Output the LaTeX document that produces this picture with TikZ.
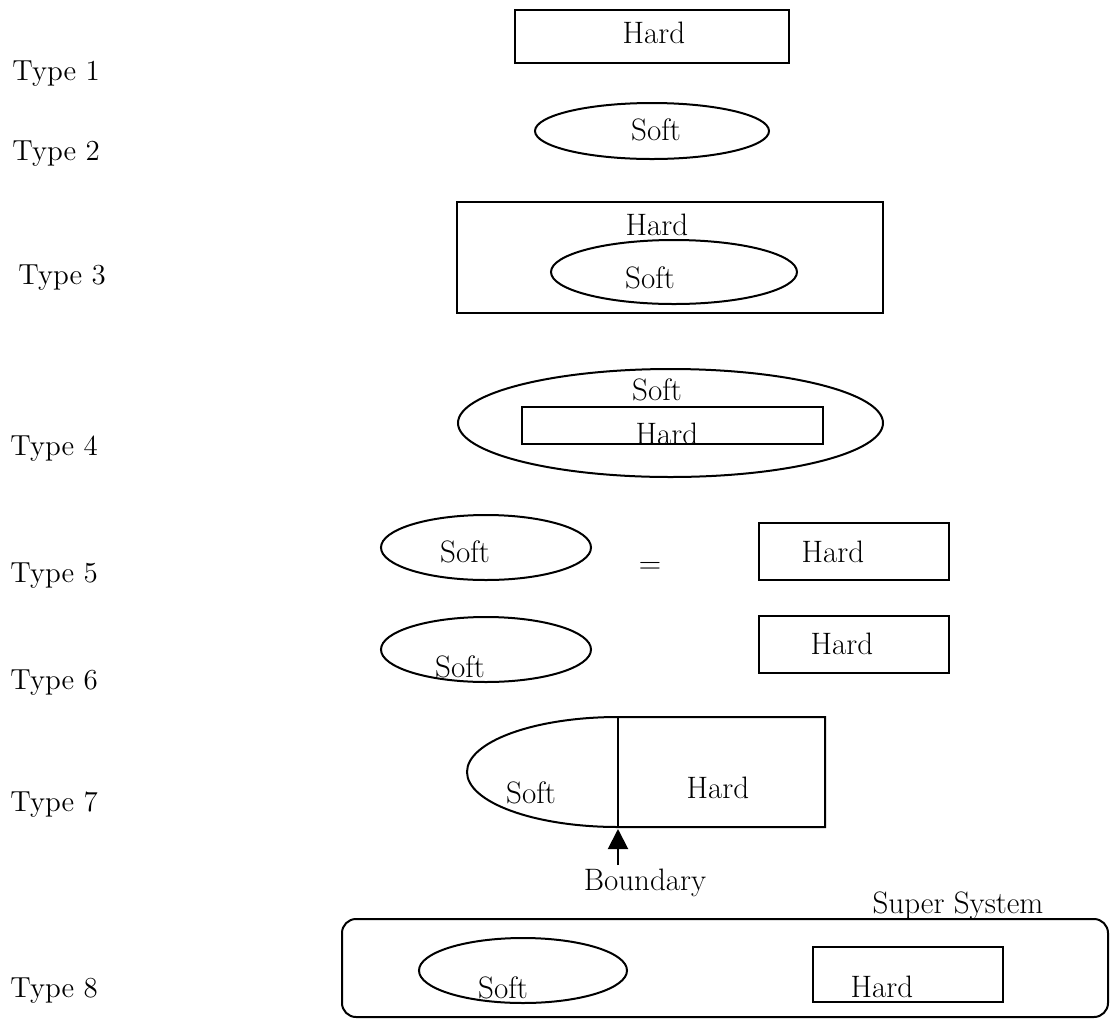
\documentclass[tikz,border=0pt]{standalone}
\usetikzlibrary{shapes.geometric,arrows.meta}
\begin{document}
\begin{tikzpicture}[x=0.5pt,y=-0.5pt,
  txt/.style={font=\fontsize{15.5}{18}\selectfont, anchor=base, inner sep=0pt},
  typelbl/.style={font=\fontsize{14.5}{17}\selectfont, anchor=base west, inner sep=0pt},
  hardbox/.style={draw, rectangle, inner sep=0pt, line width=1pt},
  softbox/.style={draw, ellipse, inner sep=0pt, line width=1pt},
  edge/.style={line width=1pt}]
\useasboundingbox (0,0) rectangle (1110,1019);

% row labels
\node[typelbl] (t1) at (12,80)  {Type 1};
\node[typelbl] (t2) at (12,160) {Type 2};
\node[typelbl] (t3) at (18,284) {Type 3};
\node[typelbl] (t4) at (10,455) {Type 4};
\node[typelbl] (t5) at (10,582) {Type 5};
\node[typelbl] (t6) at (10,689) {Type 6};
\node[typelbl] (t7) at (10,811) {Type 7};
\node[typelbl] (t8) at (10,997) {Type 8};

% Type 1: hard system only
\node[hardbox, minimum width=137pt, minimum height=26.5pt] (h1) at (652,36.5) {};
\node[txt] (h1t) at (654,43) {Hard};

% Type 2: soft system only
\node[softbox, minimum width=117pt, minimum height=28pt] (s2) at (652,131) {};
\node[txt] (s2t) at (656,140) {Soft};

% Type 3: soft inside hard
\node[hardbox, minimum width=213pt, minimum height=55.5pt] (h3) at (670,257.5) {};
\node[txt] (h3t) at (657,235) {Hard};
\node[softbox, minimum width=123pt, minimum height=32pt] (s3) at (674,272) {};
\node[txt] (s3t) at (650,288) {Soft};

% Type 4: hard inside soft
\node[softbox, minimum width=212.5pt, minimum height=54pt] (s4) at (670.5,423) {};
\node[txt] (s4t) at (657,400) {Soft};
\node[hardbox, minimum width=150.5pt, minimum height=18.5pt] (h4) at (672.5,425.5) {};
\node[txt] (h4t) at (667,444) {Hard};

% Type 5: soft equals hard
\node[softbox, minimum width=105pt, minimum height=32.5pt] (s5) at (486,547.5) {};
\node[txt] (s5t) at (465,562) {Soft};
\node[txt] (eq5) at (650,573) {=};
\node[hardbox, minimum width=95pt, minimum height=28.5pt] (h5) at (854,551.5) {};
\node[txt] (h5t) at (833,562) {Hard};

% Type 6: soft and hard side by side
\node[softbox, minimum width=105pt, minimum height=32.5pt] (s6) at (486,649.5) {};
\node[txt] (s6t) at (460,677) {Soft};
\node[hardbox, minimum width=95pt, minimum height=28.5pt] (h6) at (854,644.5) {};
\node[txt] (h6t) at (842,654) {Hard};

% Type 7: soft and hard sharing a boundary
\coordinate (b7top) at (618,717);
\coordinate (b7bot) at (618,827);
\draw[edge] (b7top) -- (825,717) -- (825,827) -- (b7bot)
  arc[start angle=270, end angle=90, x radius=75.5pt, y radius=27.5pt] -- cycle;
\draw[edge] (b7top) -- (b7bot);
\node[txt] (s7t) at (531,803) {Soft};
\node[txt] (h7t) at (718,798) {Hard};
\coordinate (arrtail) at (618,865);
\coordinate (arrtip) at (618,829);
\draw[edge, -{Triangle[length=10pt,width=10pt]}] (arrtail) -- (arrtip);
\node[txt] (bnd) at (645,890) {Boundary};

% Type 8: both inside a super system
\node[txt] (sup) at (958,913) {Super System};
\node[draw, rectangle, rounded corners=7pt, inner sep=0pt, line width=1pt,
      minimum width=383pt, minimum height=49pt] (ss8) at (725,968) {};
\node[softbox, minimum width=104pt, minimum height=32.5pt] (s8) at (523,970.5) {};
\node[txt] (s8t) at (503,998) {Soft};
\node[hardbox, minimum width=95pt, minimum height=27.5pt] (h8) at (908,974.5) {};
\node[txt] (h8t) at (882,997) {Hard};
\end{tikzpicture}
\end{document}
